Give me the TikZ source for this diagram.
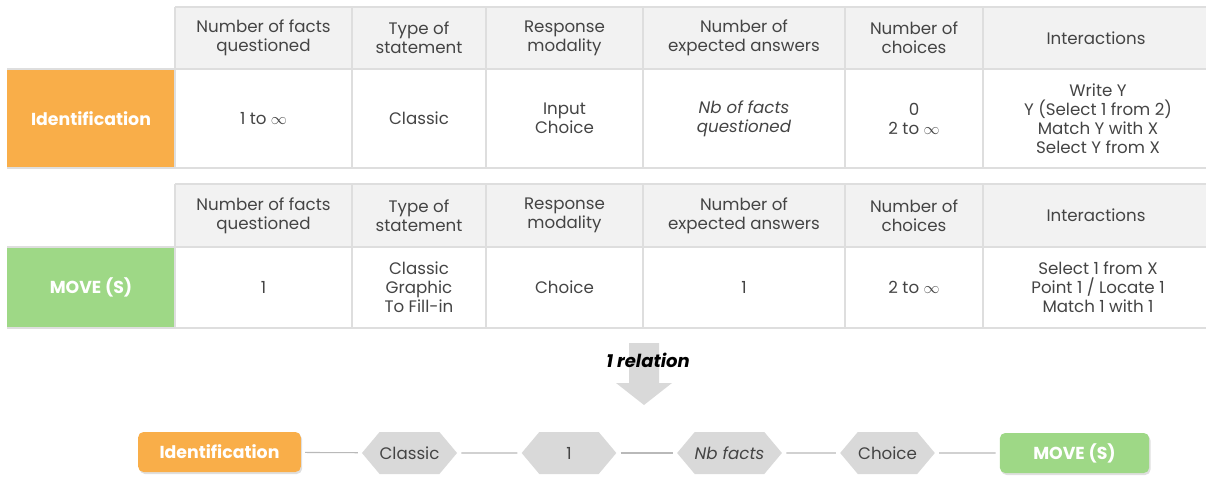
\documentclass[tikz,border=0pt]{standalone}
\usepackage{fontspec}
\setmainfont{Poppins}
\usetikzlibrary{
	positioning,
	shapes.symbols,
	shadows,
	calc,
	}
\definecolor{idorange}{HTML}{F9AE49}
\definecolor{movegreen}{HTML}{9ED886}
\definecolor{hdrgray}{HTML}{F2F2F2}
\definecolor{gridgray}{HTML}{DEDEDE}
\definecolor{hexgray}{HTML}{D9D9D9}
\definecolor{txtgray}{HTML}{444444}
\tikzset{
	cell/.style={inner sep=0pt,align=center,text=txtgray,font=\fontsize{12.5}{14.3}\selectfont},
	rowlabel/.style={inner sep=0pt,text=white,font=\fontsize{13}{14.3}\selectfont\bfseries},
	gridline/.style={gridgray,line width=1.2pt},
	tag/.style={signal,signal to=west and east,signal pointer angle=100,fill=hexgray,text=txtgray,
		minimum width=71pt,minimum height=31.5pt,inner sep=0pt,font=\fontsize{12.5}{14.3}\selectfont},
	endbox/.style={rounded corners=4pt,minimum height=30pt,inner sep=0pt,text=white,
		font=\fontsize{13}{14.3}\selectfont\bfseries,
		drop shadow={opacity=0.25,shadow xshift=1pt,shadow yshift=-1.5pt}},
	link/.style={draw=gray!55,line width=0.8pt,shorten <=3pt,shorten >=3pt},
}

\begin{document}
\begin{tikzpicture}[x=0.75pt,y=-0.75pt]
\useasboundingbox (0,0) rectangle (1206,478);
% tables
\fill[idorange] (7,69) rectangle (175,168);
\fill[movegreen] (7,247) rectangle (175,328);
\foreach \t/\ya/\yb/\yc/\yh in {1/7/69/168/38,2/184/247/328/215.5} {
	\fill[hdrgray] (175,\ya) rectangle (1206,\yb);
	\draw[gridline] (175,\ya) -- (1206,\ya);
	\draw[gridline] (7,\yb) -- (1206,\yb);
	\draw[gridline] (7,\yc) -- (1206,\yc);
	\foreach \x in {175,352,486,643,845,983} {\draw[gridline] (\x,\ya) -- (\x,\yc);}
	\foreach \xc/\txt [count=\i] in {263.5/{Number of facts\\questioned},419/{Type of\\statement},564.5/{Response\\modality},744/{Number of\\expected answers},914/{Number of\\choices},1096/{Interactions}}
		{\node[cell] (hdr\t-\i) at (\xc,\yh) {\txt};}
}
\node[rowlabel] (ident-lbl) at (91,118.5) {Identification};
\node[cell] (ident-nb) at (263.5,118.5) {1 to $\infty$};
\node[cell] (ident-type) at (419,118.5) {Classic};
\node[cell] (ident-resp) at (564.5,118.5) {Input\\Choice};
\node[cell] (ident-exp) at (744,118.5) {\itshape Nb of facts\\\itshape questioned};
\node[cell] (ident-cho) at (914,118.5) {0\\2 to $\infty$};
\node[cell] (ident-int) at (1098,118.5) {Write Y\\Y (Select 1 from 2)\\Match Y with X\\Select Y from X};
\node[rowlabel] (move-lbl) at (91,287.5) {MOVE (S)};
\node[cell] (move-nb) at (263.5,287.5) {1};
\node[cell] (move-type) at (419,287.5) {Classic\\Graphic\\To Fill-in};
\node[cell] (move-resp) at (564.5,287.5) {Choice};
\node[cell] (move-exp) at (744,287.5) {1};
\node[cell] (move-cho) at (914,287.5) {2 to $\infty$};
\node[cell] (move-int) at (1098,287.5) {Select 1 from X\\Point 1 / Locate 1\\Match 1 with 1};
% arrow
\fill[hexgray] (629,343) -- (659,343) -- (659,383) -- (672,383) -- (644,405) -- (616,383) -- (629,383) -- cycle;
\node[inner sep=0pt,font=\fontsize{13.5}{15}\selectfont\bfseries\itshape] (rel) at (648,360) {1 relation};
% chain
\node[endbox,fill=idorange,minimum width=122pt] (ident) at (219.5,452) {Identification};
\node[tag] (classic) at (409.5,453) {Classic};
\node[tag] (one) at (569,453) {1};
\node[tag] (nbfacts) at (729.5,453) {\itshape Nb facts};
\node[tag] (choice) at (887.5,453) {Choice};
\node[endbox,fill=movegreen,minimum width=112pt] (move) at (1074.5,453) {MOVE (S)};
\draw[link] (ident) -- (classic);
\draw[link] (classic) -- (one);
\draw[link] (one) -- (nbfacts);
\draw[link] (nbfacts) -- (choice);
\draw[link] (choice) -- (move);
\end{tikzpicture}
\end{document}
